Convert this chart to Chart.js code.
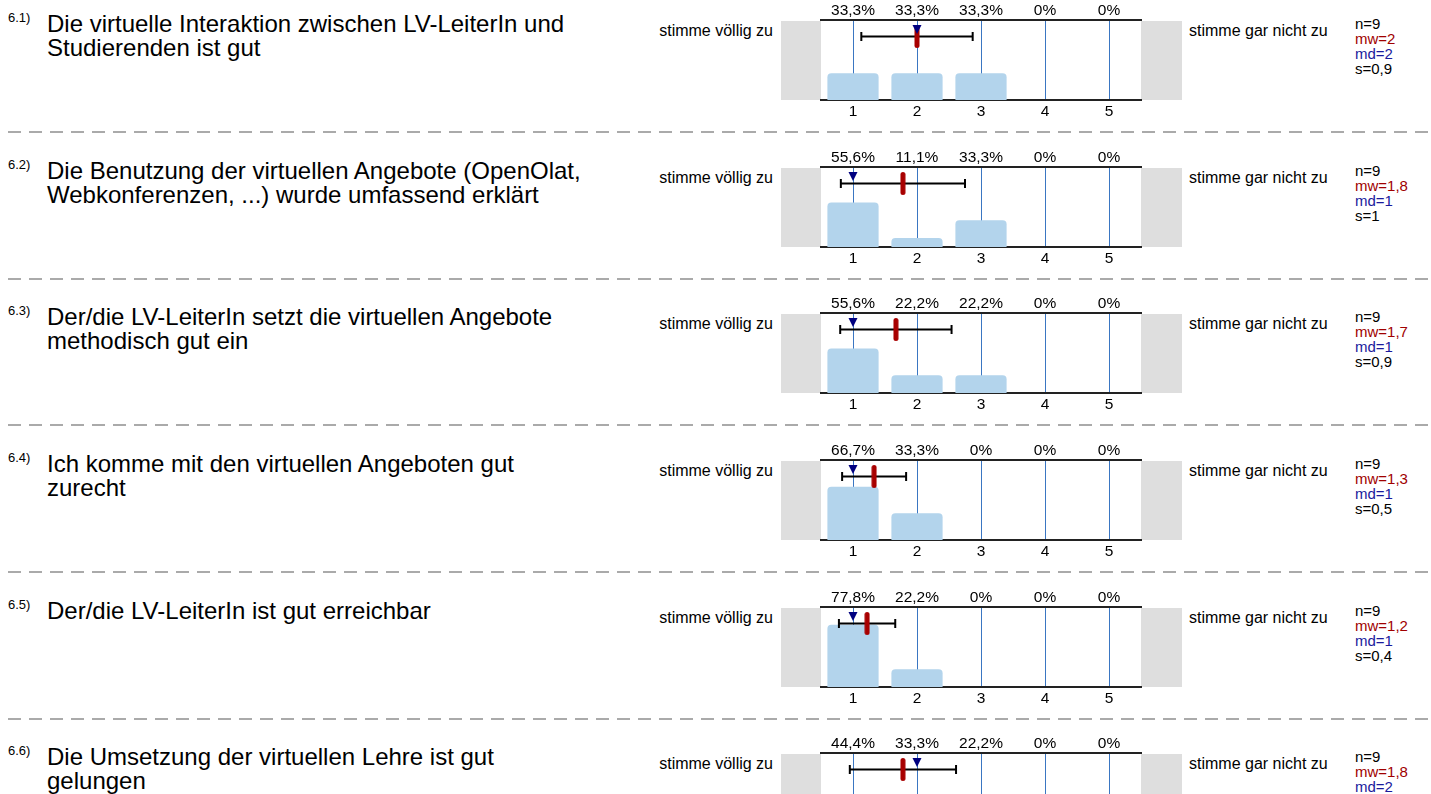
<!DOCTYPE html>
<html>
<head>
<meta charset="utf-8">
<script src="https://cdn.jsdelivr.net/npm/chart.js@4.4.1/dist/chart.umd.min.js"></script>
<style>
  html, body { margin:0; padding:0; background:#fff; }
  body { width:1431px; height:794px; overflow:hidden; position:relative; font-family:'Liberation Sans', Arial, Helvetica, sans-serif; color:#000; }
  .abs { position:absolute; white-space:nowrap; }
  .qnum { font-size:13px; line-height:13px; }
  .qtext { font-size:24px; line-height:24px; }
  .lab { font-size:16px; line-height:16px; }
  .stats { font-size:15px; line-height:15.3px; }
  .sep { position:absolute; left:8px; width:1423px; height:2px;
         background:repeating-linear-gradient(to right, #aaaaaa 0 13px, transparent 13px 21px); }
  canvas { position:absolute; }
</style>
</head>
<body>
<script>
// ---------- data ----------
const questionNumbers = ['6.1)', '6.2)', '6.3)', '6.4)', '6.5)', '6.6)'];
const questionTexts = [
  ['Die virtuelle Interaktion zwischen LV-LeiterIn und', 'Studierenden ist gut'],
  ['Die Benutzung der virtuellen Angebote (OpenOlat,', 'Webkonferenzen, ...) wurde umfassend erklärt'],
  ['Der/die LV-LeiterIn setzt die virtuellen Angebote', 'methodisch gut ein'],
  ['Ich komme mit den virtuellen Angeboten gut', 'zurecht'],
  ['Der/die LV-LeiterIn ist gut erreichbar'],
  ['Die Umsetzung der virtuellen Lehre ist gut', 'gelungen']
];
const scaleLabels = ['1', '2', '3', '4', '5'];
const leftPole = 'stimme völlig zu';
const rightPole = 'stimme gar nicht zu';
const pctQ1 = [33.3, 33.3, 33.3, 0, 0];
const pctQ2 = [55.6, 11.1, 33.3, 0, 0];
const pctQ3 = [55.6, 22.2, 22.2, 0, 0];
const pctQ4 = [66.7, 33.3, 0, 0, 0];
const pctQ5 = [77.8, 22.2, 0, 0, 0];
const pctQ6 = [44.4, 33.3, 22.2, 0, 0];
const percents = [pctQ1, pctQ2, pctQ3, pctQ4, pctQ5, pctQ6];
const nValues = [9, 9, 9, 9, 9, 9];
const means   = [2.0, 1.78, 1.67, 1.33, 1.22, 1.78];
const medians = [2, 1, 1, 1, 1, 2];
const sds     = [0.87, 0.97, 0.87, 0.5, 0.44, 0.83];

// ---------- layout / style ----------
const FONT = "'Liberation Sans', Arial, Helvetica, sans-serif";
const ROW0 = 20, ROW_STEP = 146.667;
const BAR_Y = 16.5, MED_Y = 9.5;   // px from plot top on the overlay axis
const fmt = v => String(Number(v.toFixed(1))).replace('.', ',');
const fmtPct = v => (v === 0 ? '0' : v.toFixed(1).replace('.', ',')) + '%';

function makeImg(w, h, draw) {
  const c = document.createElement('canvas'); c.width = w; c.height = h;
  draw(c.getContext('2d'), w, h); return c;
}
const meanImg = makeImg(6, 23, (g, w, h) => {
  g.fillStyle = '#a80000';
  g.beginPath(); g.roundRect(0.5, 0, w - 1, h, 2.5); g.fill();
});
const medImg = makeImg(10, 9, (g, w, h) => {
  g.fillStyle = '#000080';
  g.beginPath(); g.moveTo(0.5, 0); g.lineTo(w - 0.5, 0); g.lineTo(w / 2, h); g.closePath(); g.fill();
});

const greyBoxes = {
  id: 'greyBoxes',
  beforeDraw(chart) {
    const {ctx, chartArea: a} = chart;
    ctx.save(); ctx.fillStyle = '#dedede';
    ctx.fillRect(0, a.top + 1, a.left, a.bottom - a.top - 1);
    ctx.fillRect(a.right, a.top + 1, 41, a.bottom - a.top - 1);
    ctx.restore();
  }
};

function addDiv(cls, text, left, top, color) {
  const d = document.createElement('div');
  d.className = 'abs ' + cls; d.textContent = text;
  d.style.left = left + 'px'; d.style.top = top + 'px';
  if (color) d.style.color = color;
  document.body.appendChild(d); return d;
}

percents.forEach((pct, i) => {
  const T = Math.round(ROW0 + i * ROW_STEP);
  // texts
  addDiv('qnum', questionNumbers[i], 8, T - 9);
  questionTexts[i].forEach((line, k) => addDiv('qtext', line, 47, T - 8.5 + k * 24));
  const l = addDiv('lab', leftPole, 0, T + 2.5);
  l.style.left = 'auto'; l.style.right = (1431 - 773) + 'px';
  addDiv('lab', rightPole, 1189, T + 2.5);
  const S0 = T - 4.5;
  addDiv('stats', 'n=' + nValues[i], 1355, S0);
  addDiv('stats', 'mw=' + fmt(means[i]), 1355, S0 + 15.3, '#a00000');
  addDiv('stats', 'md=' + fmt(medians[i]), 1355, S0 + 30.6, '#1a1a9c');
  addDiv('stats', 's=' + fmt(sds[i]), 1355, S0 + 45.9);
  if (i < percents.length - 1) {
    const s = document.createElement('div'); s.className = 'sep';
    s.style.top = (T + 111) + 'px'; document.body.appendChild(s);
  }
  // chart
  const cv = document.createElement('canvas');
  cv.width = 401; cv.height = 125;
  cv.style.left = '781px'; cv.style.top = (T - 20) + 'px';
  cv.style.width = '401px'; cv.style.height = '125px';
  document.body.appendChild(cv);
  const tickFont = {family: FONT, size: 15.5};
  new Chart(cv, {
    type: 'bar',
    data: {
      labels: scaleLabels,
      datasets: [
        {type: 'scatter', data: [{x: medians[i], y: MED_Y}], xAxisID: 'xl', yAxisID: 'yo',
         pointStyle: medImg, pointRadius: 3, order: 0},
        {type: 'scatter', data: [{x: means[i], y: BAR_Y}], xAxisID: 'xl', yAxisID: 'yo',
         pointStyle: meanImg, pointRadius: 3, order: 1},
        {type: 'line', data: [{x: means[i] - sds[i], y: BAR_Y}, {x: means[i] + sds[i], y: BAR_Y}],
         xAxisID: 'xl', yAxisID: 'yo', borderColor: '#000', borderWidth: 2, fill: false,
         pointStyle: 'line', pointRotation: 90, pointRadius: 4.5, pointBorderWidth: 2,
         pointBorderColor: '#000', pointBackgroundColor: '#000', order: 2},
        {type: 'bar', data: pct, xAxisID: 'x', yAxisID: 'y', backgroundColor: '#b3d4ec',
         borderRadius: {topLeft: 4, topRight: 4, bottomLeft: 0, bottomRight: 0}, borderSkipped: 'bottom',
         categoryPercentage: 0.8, barPercentage: 1, grouped: false, order: 3}
      ]
    },
    options: {
      responsive: false, animation: false, devicePixelRatio: 1, events: [],
      layout: {padding: {left: 40, right: 41, top: 0, bottom: 0}},
      plugins: {legend: {display: false}, tooltip: {enabled: false}},
      scales: {
        x: {type: 'category', position: 'bottom', offset: true, z: 1,
            grid: {offset: false, color: '#3a76c2', lineWidth: 1, drawTicks: false},
            border: {display: true, color: '#222222', width: 2},
            ticks: {padding: 2.5, color: '#000', font: tickFont, maxRotation: 0, autoSkip: false},
            afterFit: s => { s.height = 25; }},
        xt: {type: 'category', position: 'top', offset: true, labels: pct.map(fmtPct),
            grid: {display: true, color: 'rgba(0,0,0,0)', drawTicks: false},
            border: {display: true, color: '#222222', width: 2},
            ticks: {padding: 0, color: '#000', font: tickFont, maxRotation: 0, autoSkip: false},
            afterFit: s => { s.height = 20; }},
        xl: {type: 'linear', display: false, offset: false, min: 0.5, max: 5.5},
        y: {type: 'linear', display: false, min: 0, max: 100},
        yo: {type: 'linear', display: false, offset: false, min: 0, max: 80, reverse: true}
      }
    },
    plugins: [greyBoxes]
  });
});
</script>
</body>
</html>
